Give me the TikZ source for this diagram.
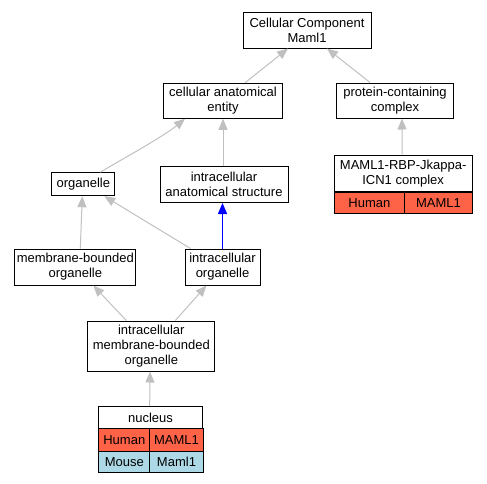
\documentclass[tikz,border=0pt]{standalone}
\usepackage{fontspec}
\setmainfont{Liberation Sans}
\usetikzlibrary{arrows.meta}
\definecolor{edgegray}{HTML}{C0C0C0}
\definecolor{humanc}{HTML}{FF6347}
\definecolor{mousec}{HTML}{ADD8E6}
\tikzset{
  term/.style={draw=black, line width=1pt, fill=white, inner sep=0pt, align=center,
    font=\fontsize{13}{15}\selectfont},
  cell/.style={draw=black, line width=1pt, inner sep=0pt, align=center,
    font=\fontsize{13}{15}\selectfont},
  isa/.style={draw=edgegray, line width=1pt, -{Triangle[length=11pt,width=9pt]}},
  blueedge/.style={draw=blue, line width=1.4pt, -{Triangle[length=11pt,width=9pt]}}
}
\begin{document}
\begin{tikzpicture}[x=1pt,y=-1pt]
\useasboundingbox (0,0) rectangle (487,483);
% nodes
\node[term, minimum width=128pt, minimum height=36pt] (cc) at (307,30) {Cellular Component\\Maml1};
\node[term, minimum width=119pt, minimum height=35pt] (cae) at (223,100.8) {cellular anatomical\\entity};
\node[term, minimum width=117pt, minimum height=35pt] (pcc) at (395,100.5) {protein-containing\\complex};
\node[term, minimum width=128pt, minimum height=36pt] (ias) at (224,184.5) {intracellular\\anatomical structure};
\node[term, minimum width=63pt, minimum height=23pt] (org) at (83.3,184.2) {organelle};
\node[term, minimum width=121pt, minimum height=36pt] (mbo) at (75.3,267) {membrane-bounded\\organelle};
\node[term, minimum width=75pt, minimum height=36pt] (io) at (222.5,267) {intracellular\\organelle};
\node[term, minimum width=127pt, minimum height=50pt] (imbo) at (151.3,346) {intracellular\\membrane-bounded\\organelle};
% MAML1 complex table
\node[term, minimum width=138.3pt, minimum height=36.7pt] (maml) at (403.15,173.35) {MAML1-RBP-Jkappa-\\ICN1 complex};
\node[cell, fill=humanc, minimum width=69.7pt, minimum height=21pt, anchor=north west] (mamlh) at (334,191.7) {Human};
\node[cell, fill=humanc, minimum width=68.6pt, minimum height=21pt, anchor=north west] (mamlg) at (403.7,191.7) {MAML1};
% nucleus table
\node[term, minimum width=104.4pt, minimum height=21.6pt] (nuc) at (150.5,417.5) {nucleus};
\node[cell, fill=humanc, minimum width=51pt, minimum height=22.4pt, anchor=north west] (nuch) at (98.3,428.3) {Human};
\node[cell, fill=humanc, minimum width=53.4pt, minimum height=22.4pt, anchor=north west] (nucg) at (149.3,428.3) {MAML1};
\node[cell, fill=mousec, minimum width=51pt, minimum height=21pt, anchor=north west] (nucm) at (98.3,450.7) {Mouse};
\node[cell, fill=mousec, minimum width=53.4pt, minimum height=21pt, anchor=north west] (nucmg) at (149.3,450.7) {Maml1};
% edges
\draw[isa] ([xshift=22pt]cae.north) -- ([xshift=-19pt]cc.south);
\draw[isa] ([xshift=-25pt]pcc.north) -- ([xshift=20pt]cc.south);
\draw[isa] ([xshift=-1pt]maml.north) -- ([xshift=7pt]pcc.south);
\draw[isa] ([xshift=17pt]org.north) .. controls +(20,-12) and +(-22,18) .. ([xshift=-38pt]cae.south);
\draw[isa] ([xshift=-1pt]ias.north) -- ([xshift=0pt]cae.south);
\draw[blueedge] (io.north) -- ([xshift=-1.5pt]ias.south);
\draw[isa] ([xshift=-32pt]io.north) -- ([xshift=21pt]org.south);
\draw[isa] ([xshift=5pt]mbo.north) -- ([xshift=-1pt]org.south);
\draw[isa] ([xshift=-25pt]imbo.north) -- ([xshift=18pt]mbo.south);
\draw[isa] ([xshift=24pt]imbo.north) -- ([xshift=-16pt]io.south);
\draw[isa] ([xshift=-0.8pt]nuc.north) -- ([xshift=-1.3pt]imbo.south);
\end{tikzpicture}
\end{document}
